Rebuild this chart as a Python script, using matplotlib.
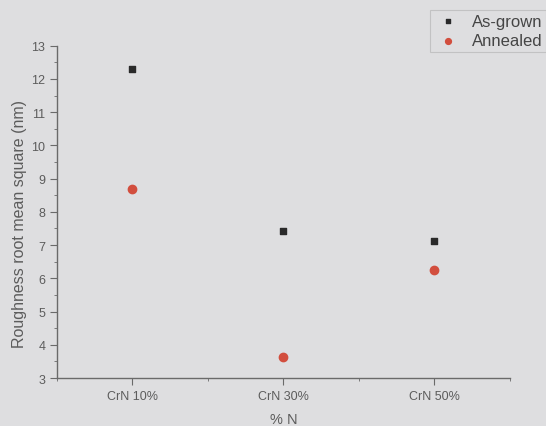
import matplotlib
matplotlib.use('Agg')
import matplotlib.pyplot as plt
from matplotlib.ticker import MultipleLocator

# Data
categories = ["CrN 10%", "CrN 30%", "CrN 50%"]
as_grown = [12.3, 7.42, 7.13]
annealed = [8.68, 3.62, 6.25]

BG = "#dedee0"
TEXT = "#5c5c5c"
AXIS = "#6a6a6a"

plt.rcParams['font.family'] = ['Liberation Sans', 'DejaVu Sans']

fig = plt.figure(figsize=(5.46, 4.27), dpi=100, facecolor=BG)
ax = fig.add_axes([0.1044, 0.1124, 0.8296, 0.7783], facecolor=BG)

x = list(range(1, len(categories) + 1))
ax.scatter(x, as_grown, marker='s', s=24, color="#2a2a2a", label="As-grown", zorder=3)
ax.scatter(x, annealed, marker='o', s=36, color="#d24e3e", label="Annealed", zorder=3)

ax.set_xlim(0.5, 3.5)
ax.set_ylim(3, 13)
ax.set_xticks(x)
ax.set_xticklabels(categories)
ax.xaxis.set_minor_locator(MultipleLocator(0.5))
ax.yaxis.set_major_locator(MultipleLocator(1))
ax.yaxis.set_minor_locator(MultipleLocator(0.5))

# Remove frame on top/right
ax.spines["top"].set_visible(False)
ax.spines["right"].set_visible(False)
for side in ("left", "bottom"):
    ax.spines[side].set_color(AXIS)
    ax.spines[side].set_linewidth(1.0)

ax.tick_params(axis='both', which='major', direction='out', length=5,
               color=AXIS, labelcolor=TEXT, labelsize=9)
ax.tick_params(axis='both', which='minor', direction='out', length=2.5,
               color=AXIS)

ax.set_xlabel("% N", color=TEXT, fontsize=10.5, labelpad=7)
ax.set_ylabel("Roughness root mean square (nm)", color=TEXT, fontsize=11.5)
ax.yaxis.set_label_coords(-0.066, 0.466)

leg = fig.legend(loc='upper left', bbox_to_anchor=(0.7875, 0.974),
                 bbox_transform=fig.transFigure, fontsize=12,
                 frameon=True, fancybox=False, borderpad=0.22,
                 borderaxespad=0, handlelength=1.7, handletextpad=0.6,
                 labelspacing=0.28, markerscale=0.7)
leg.get_frame().set_facecolor(BG)
leg.get_frame().set_edgecolor("#bcbcbc")
leg.get_frame().set_linewidth(0.8)
for text in leg.get_texts():
    text.set_color("#454545")

plt.savefig("out.png", dpi=100, facecolor=BG)
